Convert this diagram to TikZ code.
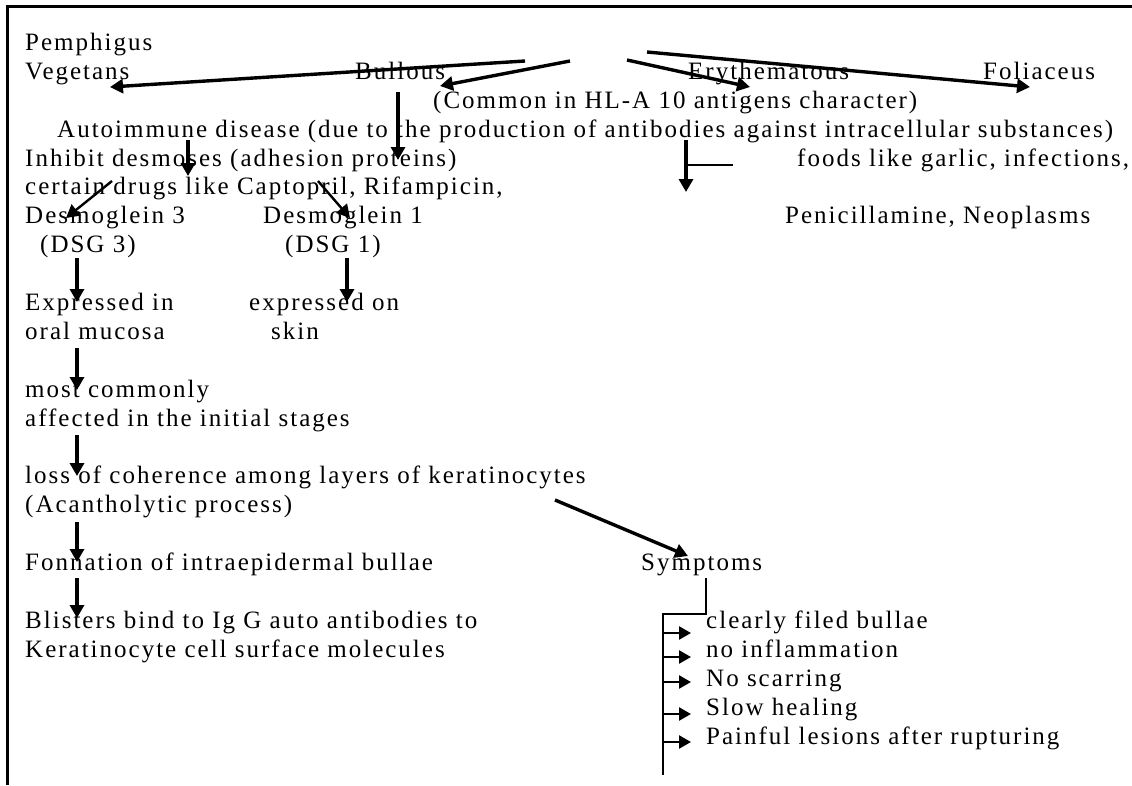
\documentclass[tikz,border=0pt]{standalone}
\usepackage{fontspec}
\setmainfont{Liberation Serif}[LetterSpace=8]
\usetikzlibrary{arrows.meta}
\begin{document}
\begin{tikzpicture}[x=1pt,y=-1pt,
  txt/.style={anchor=base west,inner sep=0pt,font=\fontsize{25}{29}\selectfont},
  arr/.style={line width=3.4pt,-{Triangle[length=13pt,width=14pt]}},
  thinarr/.style={line width=2.4pt,-{Triangle[length=12pt,width=13pt]}},
  thinline/.style={line width=2pt}]
\useasboundingbox (0,0) rectangle (1132,785);
\fill[white] (0,0) rectangle (1132,785);
% frame
\draw[line width=3pt] (7.5,785) -- (7.5,6.5) -- (1132,6.5);
% texts
\node[txt] (pem) at (25,50) {Pemphigus};
\node[txt] (veg) at (25,79) {Vegetans};
\node[txt] (bul) at (355,79) {Bullous};
\node[txt] (ery) at (688,79) {Erythematous};
\node[txt] (fol) at (983,79) {Foliaceus};
\node[txt] (com) at (433,108) {(Common in HL-A 10 antigens character)};
\node[txt] (auto) at (57,137) {Autoimmune disease (due to the production of antibodies against intracellular substances)};
\node[txt] (inh) at (25,166) {Inhibit desmoses (adhesion proteins)};
\node[txt] (foods) at (797,166) {foods like garlic, infections,};
\node[txt] (cert) at (25,194) {certain drugs like Captopril, Rifampicin,};
\node[txt] (dsg3a) at (25,223) {Desmoglein 3};
\node[txt] (dsg1a) at (263,223) {Desmoglein 1};
\node[txt] (pen) at (785,223) {Penicillamine, Neoplasms};
\node[txt] (dsg3b) at (40,252) {(DSG 3)};
\node[txt] (dsg1b) at (285,252) {(DSG 1)};
\node[txt] (expa) at (25,310) {Expressed in};
\node[txt] (expb) at (25,339) {oral mucosa};
\node[txt] (skina) at (249,310) {expressed on};
\node[txt] (skinb) at (271,339) {skin};
\node[txt] (mosta) at (25,397) {most commonly};
\node[txt] (mostb) at (25,426) {affected in the initial stages};
\node[txt] (lossa) at (25,483) {loss of coherence among layers of keratinocytes};
\node[txt] (lossb) at (25,512) {(Acantholytic process)};
\node[txt] (form) at (25,570) {Fonnation of intraepidermal bullae};
\node[txt] (symp) at (641,570) {Symptoms};
\node[txt] (blia) at (25,628) {Blisters bind to Ig G auto antibodies to};
\node[txt] (blib) at (25,657) {Keratinocyte cell surface molecules};
\node[txt] (s1) at (706,628) {clearly filed bullae};
\node[txt] (s2) at (706,657) {no inflammation};
\node[txt] (s3) at (706,686) {No scarring};
\node[txt] (s4) at (706,715) {Slow healing};
\node[txt] (s5) at (706,744) {Painful lesions after rupturing};
% coordinates for connectors
\coordinate (a1s) at (525,61);  \coordinate (a1e) at (110,87);
\coordinate (a2s) at (570,61);  \coordinate (a2e) at (440,86);
\coordinate (a3s) at (627,60);  \coordinate (a3e) at (750,87);
\coordinate (a4s) at (647,52);  \coordinate (a4e) at (1030,87);
\coordinate (a5s) at (398,92);  \coordinate (a5e) at (398,160);
\coordinate (a6s) at (188,140); \coordinate (a6e) at (188,176);
\coordinate (a7s) at (112,181); \coordinate (a7e) at (66,218);
\coordinate (a8s) at (318,181); \coordinate (a8e) at (350,218);
\coordinate (a9s) at (77,258);  \coordinate (a9e) at (77,302);
\coordinate (a10s) at (347,258); \coordinate (a10e) at (347,302);
\coordinate (a11s) at (77,348); \coordinate (a11e) at (77,390);
\coordinate (a12s) at (77,435); \coordinate (a12e) at (77,476);
\coordinate (a13s) at (77,522); \coordinate (a13e) at (77,562);
\coordinate (a14s) at (77,578); \coordinate (a14e) at (77,618);
\coordinate (a15s) at (555,500); \coordinate (a15e) at (688,556);
\coordinate (a16s) at (686,140); \coordinate (a16e) at (686,192);
\coordinate (a16b) at (686,165); \coordinate (a16c) at (733,165);
\coordinate (b0) at (706,578); \coordinate (b1) at (706,614);
\coordinate (b2) at (663,614); \coordinate (b3) at (663,775);
\coordinate (t1) at (663,633); \coordinate (u1) at (691,633);
\coordinate (t2) at (663,657); \coordinate (u2) at (691,657);
\coordinate (t3) at (663,682); \coordinate (u3) at (691,682);
\coordinate (t4) at (663,714); \coordinate (u4) at (691,714);
\coordinate (t5) at (663,742); \coordinate (u5) at (691,742);
% connectors
\draw[arr] (a1s) -- (a1e);
\draw[arr] (a2s) -- (a2e);
\draw[arr] (a3s) -- (a3e);
\draw[arr] (a4s) -- (a4e);
\draw[arr] (a5s) -- (a5e);
\draw[arr] (a6s) -- (a6e);
\draw[arr,line width=2.4pt] (a7s) -- (a7e);
\draw[arr,line width=2.4pt] (a8s) -- (a8e);
\draw[arr] (a9s) -- (a9e);
\draw[arr] (a10s) -- (a10e);
\draw[arr] (a11s) -- (a11e);
\draw[arr] (a12s) -- (a12e);
\draw[arr] (a13s) -- (a13e);
\draw[arr] (a14s) -- (a14e);
\draw[arr] (a15s) -- (a15e);
\draw[arr] (a16s) -- (a16e);
\draw[thinline] (a16b) -- (a16c);
\draw[thinline] (b0) -- (b1) -- (b2) -- (b3);
\foreach \i in {1,...,5} { \draw[thinarr] (t\i) -- (u\i); }
\end{tikzpicture}
\end{document}
